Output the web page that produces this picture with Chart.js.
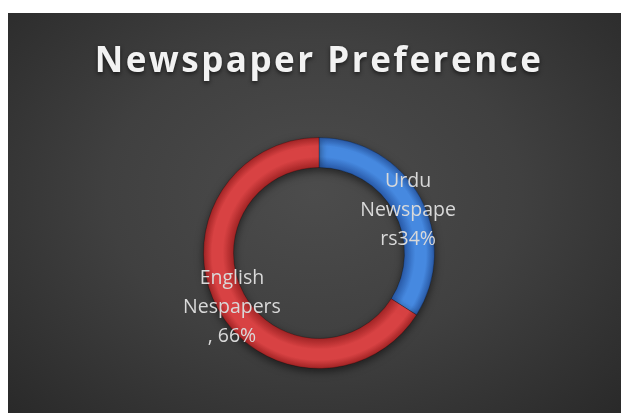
<!DOCTYPE html>
<html>
<head>
<meta charset="utf-8">
<script src="https://cdn.jsdelivr.net/npm/chart.js@4/dist/chart.umd.min.js"></script>
<style>
  html, body { margin: 0; padding: 0; background: #fff; }
  #wrap {
    position: absolute; left: 8px; top: 13px; width: 613px; height: 400px;
    background: radial-gradient(ellipse 75% 85% at 50% 45%, #4c4c4c 0%, #404040 45%, #262626 100%);
  }
</style>
</head>
<body>
<div id="wrap"><canvas id="pie" width="613" height="400"></canvas></div>
<script>
const categories = ['Urdu Newspapers', 'English Nespapers'];
const shares = [34, 66];
const labelLines = [['Urdu', 'Newspape', 'rs34%'], ['English', 'Nespapers', ', 66%']];
const sliceColors = [
  ['#2a5cab', '#4689e0', '#2857a3'],
  ['#a52627', '#d84243', '#a02324']
];
const cutoutPct = 0.74;

// ring shading, darker on both edges
function ringFill(c) {
  const chart = c.chart;
  const area = chart.chartArea;
  const cols = sliceColors[c.dataIndex];
  if (!area || !Number.isFinite(area.left)) return cols[1];
  const cx = (area.left + area.right) / 2;
  const cy = (area.top + area.bottom) / 2;
  const outer = Math.min(area.right - area.left, area.bottom - area.top) / 2;
  const inner = outer * cutoutPct;
  const g = chart.ctx.createRadialGradient(cx, cy, inner, cx, cy, outer);
  g.addColorStop(0, cols[0]);
  g.addColorStop(0.35, cols[1]);
  g.addColorStop(0.7, cols[1]);
  g.addColorStop(1, cols[2]);
  return g;
}

const titleStyle = {
  id: 'titleStyle',
  beforeDraw(chart) {
    const ctx = chart.ctx;
    ctx.save();
    ctx.letterSpacing = '2.5px';
    ctx.shadowColor = 'rgba(0,0,0,0.6)';
    ctx.shadowBlur = 4;
    ctx.shadowOffsetY = 2;
  },
  beforeDatasetsDraw(chart) {
    chart.ctx.restore();
    const ctx = chart.ctx;
    ctx.save();
    ctx.shadowColor = 'rgba(0,0,0,0.55)';
    ctx.shadowBlur = 8;
    ctx.shadowOffsetY = 3;
  },
  afterDatasetsDraw(chart) {
    chart.ctx.restore();
  }
};

const sliceLabels = {
  id: 'sliceLabels',
  afterDatasetsDraw(chart) {
    const ctx = chart.ctx;
    const meta = chart.getDatasetMeta(0);
    ctx.save();
    ctx.font = '19.5px "Open Sans"';
    ctx.fillStyle = '#d9d9d9';
    ctx.textAlign = 'center';
    ctx.textBaseline = 'middle';
    meta.data.forEach((arc, i) => {
      const mid = (arc.startAngle + arc.endAngle) / 2;
      const r = (arc.innerRadius + arc.outerRadius) / 2;
      const x = arc.x + Math.cos(mid) * r + 1;
      const y = arc.y + Math.sin(mid) * r + 6;
      const lines = labelLines[i];
      const lh = 29;
      lines.forEach((t, k) => {
        ctx.fillText(t, x, y + (k - (lines.length - 1) / 2) * lh);
      });
    });
    ctx.restore();
  }
};

new Chart(document.getElementById('pie'), {
  type: 'doughnut',
  data: {
    labels: categories,
    datasets: [{
      data: shares,
      backgroundColor: ringFill,
      borderColor: 'rgba(0,0,0,0.25)',
      borderWidth: 1
    }]
  },
  options: {
    responsive: false,
    animation: false,
    cutout: (cutoutPct * 100) + '%',
    layout: { padding: { left: 9, right: 0, top: 0, bottom: 44 } },
    plugins: {
      legend: { display: false },
      tooltip: { enabled: false },
      title: {
        display: true,
        text: 'Newspaper Preference',
        color: '#f2f2f2',
        font: { family: '"Open Sans"', size: 35, weight: 'bold' },
        padding: { top: 28, bottom: 54 }
      }
    }
  },
  plugins: [titleStyle, sliceLabels]
});
</script>
</body>
</html>
